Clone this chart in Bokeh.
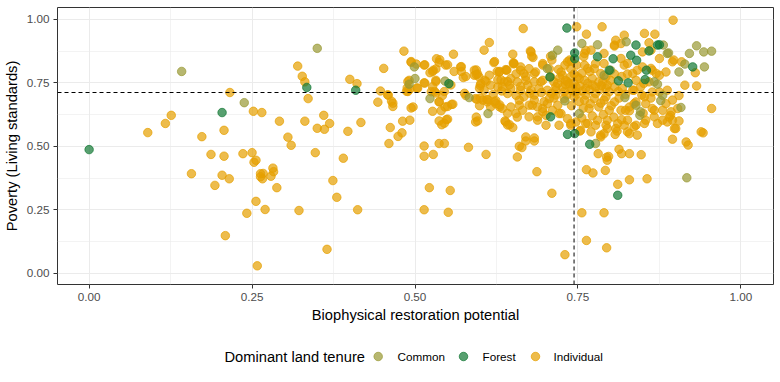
from bokeh.plotting import figure
from bokeh.layouts import column
from bokeh.models import Range1d, FixedTicker, NumeralTickFormatter, Span
from bokeh.core.properties import value
from bokeh.embed import file_html
from bokeh.resources import INLINE

# ---------------- data ----------------
legend_title = "Dominant land tenure"
tenure_labels = ["Common", "Forest", "Individual"]
tenure_colors = ["#999933", "#117733", "#E69F00"]
x_ticks = [0.0, 0.25, 0.5, 0.75, 1.0]
y_ticks = [0.0, 0.25, 0.5, 0.75, 1.0]
x_minor = [0.125, 0.375, 0.625, 0.875]
y_minor = [0.125, 0.375, 0.625, 0.875]
mean_restoration = 0.744
mean_poverty = 0.712

common_x = [0.142, 0.238, 0.350, 0.491, 0.499, 0.500, 0.523, 0.546, 0.583, 0.612, 0.719, 0.711, 0.703, 0.730,
            0.756, 0.780, 0.752, 0.777, 0.921, 0.932, 0.943, 0.955, 0.914, 0.905, 0.944, 0.908, 0.917, 0.881,
            0.824, 0.867, 0.880, 0.877, 0.822, 0.839, 0.845, 0.800, 0.790, 0.889, 0.887, 0.846, 0.872]
common_y = [0.795, 0.672, 0.886, 0.745, 0.813, 0.767, 0.688, 0.757, 0.692, 0.629, 0.879, 0.859, 0.806, 0.679,
            0.905, 0.900, 0.629, 0.511, 0.866, 0.896, 0.872, 0.875, 0.824, 0.793, 0.813, 0.653, 0.376, 0.899,
            0.912, 0.754, 0.701, 0.680, 0.692, 0.662, 0.622, 0.800, 0.780, 0.868, 0.866, 0.636, 0.745]

forest_x = [0.000, 0.204, 0.334, 0.409, 0.552, 0.733, 0.745, 0.745, 0.780, 0.804, 0.798, 0.840, 0.839, 0.812,
            0.827, 0.855, 0.853, 0.859, 0.872, 0.926, 0.708, 0.734, 0.745, 0.768, 0.811, 0.707, 0.875, 0.831]
forest_y = [0.487, 0.633, 0.732, 0.721, 0.747, 0.966, 0.868, 0.845, 0.853, 0.845, 0.800, 0.839, 0.899, 0.758,
            0.750, 0.800, 0.763, 0.876, 0.899, 0.813, 0.616, 0.547, 0.550, 0.508, 0.307, 0.773, 0.900, 0.859]

indiv_x = [
    0.216, 0.252, 0.265, 0.126, 0.117, 0.090, 0.207, 0.173, 0.187, 0.207, 0.236, 0.250, 0.253, 0.256,
    0.157, 0.204, 0.215, 0.193, 0.263, 0.263, 0.256, 0.242, 0.209, 0.258,
    0.666, 0.320, 0.327, 0.331, 0.336, 0.292, 0.331, 0.360, 0.369, 0.350, 0.361, 0.305, 0.310, 0.347,
    0.390, 0.397, 0.417, 0.400, 0.411, 0.452, 0.483, 0.282, 0.283, 0.267, 0.266, 0.279, 0.288, 0.374,
    0.380, 0.270, 0.322, 0.412, 0.365, 0.443, 0.447, 0.459, 0.464, 0.466, 0.462, 0.460, 0.474, 0.480,
    0.481, 0.492, 0.494, 0.497, 0.487, 0.488, 0.491, 0.494, 0.502, 0.514, 0.514, 0.503, 0.514, 0.514,
    0.528, 0.522, 0.554, 0.514, 0.551, 0.537, 0.545, 0.527, 0.525, 0.527, 0.533, 0.537, 0.528, 0.523,
    0.532, 0.532, 0.559, 0.547, 0.560, 0.537, 0.546, 0.540, 0.556, 0.537, 0.548, 0.541, 0.542, 0.532,
    0.570, 0.574, 0.578, 0.582, 0.591, 0.596, 0.600, 0.595, 0.599, 0.594, 0.596, 0.606, 0.614, 0.621,
    0.607, 0.614, 0.610, 0.609, 0.626, 0.627, 0.634, 0.624, 0.630, 0.638, 0.645, 0.650, 0.651, 0.640,
    0.655, 0.657, 0.660, 0.657,
    0.748, 0.787, 0.896, 0.763, 0.762, 0.678, 0.681, 0.710, 0.730, 0.740, 0.696,
    0.955, 0.942, 0.916, 0.919, 0.895, 0.914, 0.932, 0.905, 0.930, 0.890, 0.905,
    0.664, 0.670, 0.683, 0.687, 0.710, 0.730, 0.756, 0.790, 0.763, 0.794, 0.763, 0.773, 0.792, 0.811,
    0.829, 0.856, 0.781, 0.794, 0.795, 0.797, 0.813, 0.817, 0.829, 0.847, 0.785, 0.790, 0.807, 0.829,
    0.810, 0.753,
    0.677, 0.679, 0.591, 0.601, 0.598, 0.629, 0.639, 0.651, 0.662, 0.667, 0.675, 0.685, 0.708, 0.706,
    0.720, 0.734, 0.739, 0.726, 0.713, 0.696, 0.683, 0.670, 0.657, 0.647, 0.637, 0.627, 0.616, 0.606,
    0.593, 0.604, 0.611, 0.624, 0.634, 0.616, 0.593, 0.639, 0.650, 0.675, 0.688, 0.696, 0.683, 0.667,
    0.655, 0.647, 0.662, 0.678, 0.690, 0.703, 0.716, 0.726, 0.736, 0.739, 0.729, 0.719, 0.706, 0.711,
    0.724, 0.734, 0.739, 0.701, 0.688, 0.675, 0.660, 0.739, 0.748,
    0.806, 0.816, 0.859, 0.760, 0.790, 0.875, 0.895, 0.760, 0.775, 0.821, 0.834, 0.849, 0.864, 0.875,
    0.859, 0.839, 0.800, 0.788, 0.772, 0.760, 0.749, 0.747, 0.762, 0.777, 0.793, 0.806, 0.818, 0.834,
    0.846, 0.864, 0.875, 0.887, 0.839, 0.854, 0.885, 0.895, 0.744, 0.760, 0.775, 0.790, 0.806, 0.767,
    0.782, 0.798, 0.816, 0.829, 0.864, 0.880, 0.892, 0.903, 0.747, 0.762, 0.777, 0.795, 0.811, 0.826,
    0.839, 0.854, 0.872, 0.887, 0.900,
    0.494, 0.515, 0.527, 0.538, 0.550, 0.571, 0.571, 0.578, 0.594, 0.594, 0.622, 0.630, 0.641, 0.642,
    0.632, 0.609, 0.599, 0.600, 0.612, 0.622, 0.630, 0.642, 0.642, 0.576, 0.555, 0.532, 0.515, 0.504,
    0.489, 0.492, 0.489, 0.458, 0.466, 0.530, 0.545, 0.537, 0.550, 0.558, 0.550, 0.545,
    0.696, 0.652, 0.662, 0.670, 0.683, 0.708, 0.724, 0.737, 0.759, 0.770, 0.765, 0.777, 0.785, 0.673,
    0.693, 0.719, 0.734, 0.752, 0.765, 0.782, 0.795, 0.642, 0.660, 0.683, 0.716, 0.729, 0.747, 0.762,
    0.777, 0.793, 0.647, 0.665, 0.680, 0.696, 0.703, 0.721, 0.688, 0.655, 0.701, 0.721, 0.739, 0.765,
    0.780, 0.754, 0.770, 0.785, 0.670, 0.683,
    0.852, 0.868, 0.821, 0.808, 0.806, 0.862, 0.849, 0.897, 0.909, 0.870, 0.885, 0.862, 0.841, 0.826,
    0.816, 0.790, 0.793, 0.836, 0.852, 0.836, 0.823, 0.867, 0.893, 0.867, 0.880, 0.895, 0.852, 0.836,
    0.821, 0.808, 0.795, 0.841, 0.826, 0.793, 0.898, 0.939,
    0.722, 0.731, 0.744, 0.753, 0.741, 0.757, 0.733, 0.748, 0.768, 0.783, 0.772, 0.786, 0.798, 0.812,
    0.756, 0.768, 0.744, 0.731, 0.716, 0.709, 0.694, 0.676, 0.662, 0.645, 0.633, 0.620, 0.752, 0.769,
    0.785, 0.801, 0.740, 0.758, 0.713, 0.698, 0.817, 0.826, 0.806, 0.851, 0.823, 0.848, 0.862, 0.813,
    0.829, 0.850, 0.756, 0.772, 0.789, 0.805, 0.817]
indiv_y = [
    0.712, 0.638, 0.633, 0.622, 0.590, 0.554, 0.563, 0.538, 0.468, 0.461, 0.471, 0.475, 0.437, 0.445,
    0.392, 0.386, 0.372, 0.346, 0.392, 0.380, 0.283, 0.236, 0.148, 0.029,
    0.964, 0.816, 0.776, 0.754, 0.688, 0.599, 0.599, 0.622, 0.590, 0.571, 0.567, 0.536, 0.504, 0.475,
    0.453, 0.559, 0.594, 0.764, 0.747, 0.807, 0.875, 0.414, 0.400, 0.393, 0.372, 0.382, 0.337, 0.365,
    0.299, 0.251, 0.247, 0.250, 0.094, 0.674, 0.718, 0.701, 0.678, 0.657, 0.574, 0.511, 0.539, 0.553,
    0.599, 0.603, 0.651, 0.655, 0.717, 0.730, 0.760, 0.831, 0.824, 0.820, 0.750, 0.730, 0.501, 0.461,
    0.468, 0.337, 0.326, 0.250, 0.240, 0.511, 0.511, 0.638, 0.715, 0.735, 0.845, 0.830, 0.800, 0.790,
    0.805, 0.760, 0.863, 0.820, 0.795, 0.675, 0.655, 0.640, 0.665, 0.600, 0.605, 0.585, 0.700, 0.710,
    0.813, 0.771, 0.700, 0.496, 0.800, 0.785, 0.740, 0.685, 0.660, 0.615, 0.600, 0.879, 0.909, 0.830,
    0.760, 0.780, 0.685, 0.468, 0.795, 0.762, 0.735, 0.680, 0.655, 0.600, 0.585, 0.863, 0.825, 0.800,
    0.785, 0.458, 0.500, 0.615,
    0.971, 0.971, 0.997, 0.942, 0.878, 0.872, 0.850, 0.840, 0.820, 0.835, 0.820,
    0.649, 0.553, 0.517, 0.505, 0.528, 0.741, 0.738, 0.700, 0.790, 0.615, 0.600,
    0.495, 0.521, 0.521, 0.400, 0.315, 0.073, 0.238, 0.238, 0.129, 0.100, 0.408, 0.395, 0.405, 0.350,
    0.368, 0.372, 0.471, 0.457, 0.445, 0.460, 0.488, 0.471, 0.471, 0.467, 0.537, 0.550, 0.547, 0.550,
    0.560, 0.560,
    0.876, 0.855, 0.780, 0.747, 0.774, 0.793, 0.802, 0.829, 0.813, 0.787, 0.806, 0.793, 0.855, 0.806,
    0.803, 0.833, 0.806, 0.780, 0.754, 0.760, 0.754, 0.760, 0.754, 0.767, 0.754, 0.734, 0.741, 0.721,
    0.688, 0.682, 0.675, 0.668, 0.649, 0.655, 0.596, 0.596, 0.574, 0.616, 0.655, 0.636, 0.682, 0.695,
    0.701, 0.728, 0.721, 0.721, 0.728, 0.721, 0.721, 0.734, 0.747, 0.721, 0.688, 0.662, 0.688, 0.642,
    0.629, 0.609, 0.583, 0.622, 0.603, 0.662, 0.662, 0.774, 0.820,
    0.899, 0.905, 0.908, 0.866, 0.866, 0.846, 0.833, 0.820, 0.806, 0.820, 0.787, 0.813, 0.800, 0.780,
    0.754, 0.760, 0.760, 0.754, 0.767, 0.760, 0.774, 0.734, 0.728, 0.734, 0.728, 0.734, 0.728, 0.721,
    0.734, 0.714, 0.714, 0.721, 0.675, 0.668, 0.668, 0.682, 0.695, 0.682, 0.688, 0.682, 0.675, 0.649,
    0.655, 0.642, 0.642, 0.655, 0.649, 0.642, 0.622, 0.649, 0.596, 0.590, 0.583, 0.603, 0.590, 0.603,
    0.583, 0.603, 0.590, 0.596, 0.570,
    0.834, 0.821, 0.795, 0.841, 0.821, 0.814, 0.795, 0.775, 0.801, 0.782, 0.834, 0.795, 0.801, 0.755,
    0.762, 0.755, 0.729, 0.690, 0.683, 0.676, 0.663, 0.630, 0.584, 0.709, 0.742, 0.755, 0.749, 0.729,
    0.755, 0.725, 0.716, 0.703, 0.670, 0.716, 0.716, 0.676, 0.657, 0.666, 0.607, 0.591,
    0.826, 0.826, 0.800, 0.774, 0.787, 0.774, 0.793, 0.840, 0.853, 0.879, 0.807, 0.826, 0.787, 0.741,
    0.754, 0.748, 0.754, 0.767, 0.748, 0.754, 0.741, 0.708, 0.682, 0.702, 0.702, 0.715, 0.715, 0.702,
    0.708, 0.695, 0.655, 0.642, 0.662, 0.649, 0.668, 0.629, 0.616, 0.629, 0.583, 0.583, 0.590, 0.590,
    0.603, 0.563, 0.557, 0.544, 0.537, 0.533,
    0.945, 0.942, 0.938, 0.918, 0.895, 0.879, 0.872, 0.840, 0.833, 0.787, 0.793, 0.807, 0.800, 0.826,
    0.846, 0.826, 0.774, 0.721, 0.695, 0.668, 0.642, 0.642, 0.636, 0.616, 0.603, 0.603, 0.590, 0.577,
    0.583, 0.570, 0.570, 0.544, 0.557, 0.583, 0.570, 0.557,
    0.770, 0.760, 0.748, 0.738, 0.728, 0.718, 0.702, 0.706, 0.722, 0.722, 0.742, 0.739, 0.715, 0.716,
    0.788, 0.795, 0.785, 0.744, 0.735, 0.708, 0.712, 0.709, 0.736, 0.742, 0.718, 0.705, 0.676, 0.668,
    0.670, 0.660, 0.660, 0.650, 0.690, 0.676, 0.775, 0.785, 0.785, 0.748, 0.705, 0.702, 0.690, 0.690,
    0.640, 0.630, 0.612, 0.620, 0.625, 0.615, 0.605]

# ---------------- main figure ----------------
FONT = "Liberation Sans"
W = 780
BL, BR = 57, 7
p = figure(width=W, height=332, output_backend="svg", toolbar_location=None,
           x_range=Range1d(-0.0485, 1.05), y_range=Range1d(-0.0446, 1.047),
           min_border_left=BL, min_border_right=BR, min_border_top=7, min_border_bottom=48,
           background_fill_color="white", border_fill_color="white")

p.outline_line_color = "#333333"
p.outline_line_width = 1
p.outline_line_alpha = 1

xt = FixedTicker(ticks=x_ticks, minor_ticks=x_minor)
yt = FixedTicker(ticks=y_ticks, minor_ticks=y_minor)
p.xaxis.ticker = xt
p.yaxis.ticker = yt
p.xgrid.ticker = xt
p.ygrid.ticker = yt
for g in (p.xgrid, p.ygrid):
    g.grid_line_color = "#EBEBEB"
    g.grid_line_width = 1
    g.minor_grid_line_color = "#EBEBEB"
    g.minor_grid_line_width = 0.6

for ax in (p.xaxis, p.yaxis):
    ax.formatter = NumeralTickFormatter(format="0.00")
    ax.axis_line_color = None
    ax.major_tick_line_color = "#333333"
    ax.major_tick_out = 4
    ax.major_tick_in = 0
    ax.minor_tick_line_color = None
    ax.major_label_text_font = FONT
    ax.major_label_text_font_size = "11.7px"
    ax.major_label_text_color = "#4D4D4D"
    ax.axis_label_text_font = FONT
    ax.axis_label_text_font_size = "14.7px"
    ax.axis_label_text_font_style = "normal"
    ax.axis_label_text_color = "black"

p.xaxis.axis_label = "Biophysical restoration potential"
p.yaxis.axis_label = "Poverty (Living standards)"
p.xaxis.major_label_standoff = 4
p.yaxis.major_label_standoff = 4
p.xaxis.axis_label_standoff = 3
p.yaxis.axis_label_standoff = 4

groups = [(indiv_x, indiv_y, 2), (common_x, common_y, 0), (forest_x, forest_y, 1)]
for xs, ys, k in groups:
    p.scatter(xs, ys, size=8.5, marker="circle",
              fill_color=tenure_colors[k], line_color=tenure_colors[k],
              fill_alpha=0.7, line_alpha=0.7, line_width=1)

p.add_layout(Span(location=mean_poverty, dimension="width", line_color="black",
                  line_width=1, line_dash="4 3"))
p.add_layout(Span(location=mean_restoration, dimension="height", line_color="black",
                  line_width=1, line_dash="4 3"))

# ---------------- legend row (ggplot-style, title on the left) ----------------
# the legend strip shares the main plot's left/right borders, so its
# x range is expressed in page pixels across that frame
LH = 50
lg = figure(width=W, height=LH, output_backend="svg", toolbar_location=None,
            x_range=Range1d(BL, W - BR), y_range=Range1d(0, LH),
            min_border_left=BL, min_border_right=BR, min_border_top=0, min_border_bottom=0,
            background_fill_color="white", border_fill_color="white")
lg.axis.visible = False
lg.grid.visible = False
lg.outline_line_color = None

ly = 26
title_x = 224
key_x = [377.7, 463, 535]
label_x = [397, 482, 553]
lg.text(x=[title_x], y=[ly], text=[legend_title], text_font=value(FONT), text_font_size="14.7px",
        text_color="black", text_baseline="middle", text_align="left")
lg.scatter(x=key_x, y=[ly] * 3, size=8.5, marker="circle", fill_color=tenure_colors,
           line_color=tenure_colors, fill_alpha=0.7, line_alpha=0.7, line_width=1)
lg.text(x=label_x, y=[ly] * 3, text=tenure_labels, text_font=value(FONT), text_font_size="11.7px",
        text_color="black", text_baseline="middle", text_align="left")

layout = column(p, lg, spacing=0)
open("out.html", "w").write(file_html(layout, INLINE))
